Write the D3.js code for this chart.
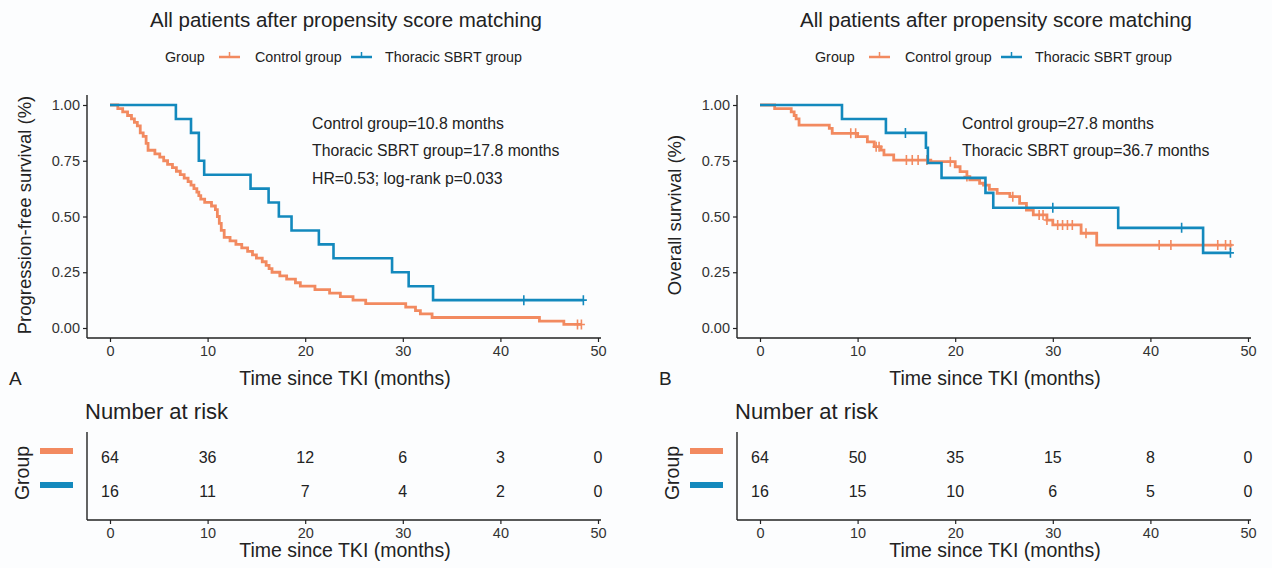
<!DOCTYPE html>
<html>
<head>
<meta charset="utf-8">
<script src="https://cdn.jsdelivr.net/npm/d3@7"></script>
<style>
  body { margin: 0; background: #fcfdfe; }
  svg { font-family: "Liberation Sans", Arial, sans-serif; }
</style>
</head>
<body>
<div id="chart"></div>
<script>
// ---- data ----
var groups = ["Control group", "Thoracic SBRT group"];
var timeTicks = [0, 10, 20, 30, 40, 50];
var survTicks = [0, 0.25, 0.5, 0.75, 1];

// PFS, control group (step times / survival after the step)
var pfsControlTime = [0, 0.8, 1.3, 1.8, 2.2, 2.5, 2.8, 3.1, 3.4, 3.7, 3.9, 4.6, 5.1, 5.5, 5.9, 6.4, 6.8, 7.2, 7.6, 8.0,
  8.3, 8.6, 8.9, 9.1, 9.3, 9.7, 10.4, 10.8, 11.0, 11.2, 11.4, 11.7, 12.3, 12.9, 13.5, 14.1, 14.6, 15.0, 15.6, 16.0,
  16.3, 16.6, 17.4, 18.1, 19.0, 19.5, 21.0, 22.5, 23.6, 24.9, 26.2, 30.3, 31.3, 31.8, 33.0, 44.0, 46.5];
var pfsControlSurv = [1, .984, .969, .953, .938, .922, .906, .875, .859, .828, .797, .781, .766, .750, .734, .719, .703, .688, .672, .656,
  .641, .625, .609, .594, .578, .563, .547, .531, .500, .469, .438, .406, .391, .375, .359, .344, .328, .313, .297, .281,
  .266, .250, .234, .219, .203, .188, .172, .156, .141, .125, .109, .094, .078, .063, .047, .031, .016];
var pfsControlCensor = [47.9, 48.3];
var pfsControlEnd = 48.3;

// PFS, thoracic SBRT group
var pfsSbrtTime = [0, 6.75, 8.3, 9.1, 9.65, 14.4, 16.25, 17.3, 18.6, 21.4, 22.9, 28.9, 30.6, 33.1];
var pfsSbrtSurv = [1, .9375, .875, .75, .6875, .625, .5625, .5, .4375, .375, .3125, .25, .1875, .125];
var pfsSbrtCensor = [42.4, 48.5];
var pfsSbrtEnd = 48.5;

// OS, control group
var osControlTime = [0, 1.5, 3.2, 3.5, 3.7, 4.0, 7.1, 7.4, 10.0, 11.0, 11.7, 12.4, 12.7, 13.7, 17.5, 20.0, 20.5, 21.2, 21.5,
  22.5, 22.9, 23.5, 24.3, 25.6, 26.6, 27.3, 28.0, 29.4, 30.0, 32.9, 34.5];
var osControlSurv = [1, .984, .969, .953, .938, .910, .895, .873, .858, .835, .813, .798, .776, .753, .746, .723, .701, .679, .664,
  .649, .641, .622, .604, .589, .559, .529, .507, .484, .462, .425, .372];
var osControlCensor = [9.3, 9.8, 11.9, 12.2, 15.0, 15.6, 16.2, 17.1, 19.5, 21.2, 25.9, 28.6, 29.0, 29.4, 30.5, 31.0, 31.5, 32.0,
  33.4, 40.9, 42.1, 46.9, 47.7, 48.2];
var osControlEnd = 48.4;

// OS, thoracic SBRT group
var osSbrtTime = [0, 8.4, 12.9, 17.0, 17.2, 18.6, 23.1, 23.9, 36.7, 45.4];
var osSbrtSurv = [1, .9375, .875, .808, .740, .673, .606, .539, .449, .337];
var osSbrtCensor = [14.9, 30.0, 43.2, 48.2];
var osSbrtEnd = 48.2;

// numbers at risk at timeTicks
var pfsRiskControl = [64, 36, 12, 6, 3, 0];
var pfsRiskSbrt = [16, 11, 7, 4, 2, 0];
var osRiskControl = [64, 50, 35, 15, 8, 0];
var osRiskSbrt = [16, 15, 10, 6, 5, 0];

var pfsNotes = ["Control group=10.8 months", "Thoracic SBRT group=17.8 months", "HR=0.53; log-rank p=0.033"];
var osNotes = ["Control group=27.8 months", "Thoracic SBRT group=36.7 months"];

var colors = ["#f28a60", "#1389bd"];
var ink = "#222";

var svg = d3.select("#chart").append("svg")
    .attr("width", 1272)
    .attr("height", 568);

function drawPanel(ox, letter, yTitle, curves, risks, notes) {
  var g = svg.append("g").attr("transform", "translate(" + ox + ",0)");

  var x = d3.scaleLinear().domain([0, 50]).range([110, 598]);
  var y = d3.scaleLinear().domain([0, 1]).range([328, 105]);

  // title
  g.append("text").attr("x", 346).attr("y", 27).attr("text-anchor", "middle")
    .attr("font-size", 20.5).attr("fill", ink)
    .text("All patients after propensity score matching");

  // legend
  var ly = 57;
  g.append("text").attr("x", 165).attr("y", ly + 5).attr("font-size", 14.3).attr("fill", ink).text("Group");
  var keyX = [219, 351], labX = [255, 385];
  groups.forEach(function(name, i) {
    g.append("line").attr("x1", keyX[i]).attr("x2", keyX[i] + 21).attr("y1", ly).attr("y2", ly)
      .attr("stroke", colors[i]).attr("stroke-width", 2.5);
    g.append("line").attr("x1", keyX[i] + 10.5).attr("x2", keyX[i] + 10.5).attr("y1", ly - 5).attr("y2", ly + 1)
      .attr("stroke", colors[i]).attr("stroke-width", 1.5);
    g.append("text").attr("x", labX[i]).attr("y", ly + 5).attr("font-size", 14.3).attr("fill", ink).text(name);
  });

  // axes
  var yAxis = g.append("g").attr("transform", "translate(87,0)")
    .call(d3.axisLeft(y).tickValues(survTicks).tickFormat(d3.format(".2f")).tickSize(4).tickSizeOuter(0));
  var xAxis = g.append("g").attr("transform", "translate(0,338)")
    .call(d3.axisBottom(x).tickValues(timeTicks).tickSize(4).tickSizeOuter(0));
  [yAxis, xAxis].forEach(function(a) {
    a.select(".domain").attr("stroke", ink).attr("stroke-width", 1.4);
    a.selectAll(".tick line").attr("stroke", ink).attr("stroke-width", 1.2);
    a.selectAll("text").attr("font-size", 14.5).attr("fill", "#333").attr("font-family", "Liberation Sans, Arial, sans-serif");
  });
  yAxis.select(".domain").attr("d", "M0,95V338");
  xAxis.select(".domain").attr("d", "M87,0H601");
  yAxis.selectAll("text").attr("x", -7);
  xAxis.selectAll("text").attr("y", 8);

  g.append("text").attr("transform", "translate(31,215) rotate(-90)").attr("text-anchor", "middle")
    .attr("font-size", 18.5).attr("fill", ink).text(yTitle);
  g.append("text").attr("x", 345).attr("y", 385).attr("text-anchor", "middle")
    .attr("font-size", 19.5).attr("fill", ink).text("Time since TKI (months)");
  g.append("text").attr("x", 9).attr("y", 385).attr("font-size", 19).attr("fill", ink).text(letter);

  // annotations
  notes.forEach(function(t, i) {
    g.append("text").attr("x", 312).attr("y", 128.5 + i * 27.5).attr("font-size", 15.8).attr("fill", ink).text(t);
  });

  // curves
  var line = d3.line().curve(d3.curveStepAfter)
    .x(function(d) { return x(d[0]); })
    .y(function(d) { return y(d[1]); });

  curves.forEach(function(c, i) {
    var pts = c.time.map(function(t, k) { return [t, c.surv[k]]; });
    pts.push([c.end, c.surv[c.surv.length - 1]]);
    g.append("path").datum(pts).attr("d", line)
      .attr("fill", "none").attr("stroke", colors[i]).attr("stroke-width", i === 0 ? 2.8 : 2.6)
      .attr("stroke-linejoin", "miter");
    // censor marks
    g.selectAll(".cens" + i).data(c.censor).enter().append("path")
      .attr("class", "cens" + i)
      .attr("d", function(t) {
        var k = d3.bisectRight(c.time, t) - 1;
        var cx = x(t), cy = y(c.surv[k]);
        return "M" + cx + "," + (cy - 5) + "V" + (cy + 5) + "M" + (cx - 3.5) + "," + cy + "H" + (cx + 3.5);
      })
      .attr("stroke", colors[i]).attr("stroke-width", 1.6).attr("fill", "none");
  });

  // number at risk table
  g.append("text").attr("x", 85).attr("y", 419).attr("font-size", 22).attr("fill", ink).text("Number at risk");
  var ry = d3.scalePoint().domain(groups).range([457, 491]);
  var rx = g.append("g").attr("transform", "translate(0,520)")
    .call(d3.axisBottom(x).tickValues(timeTicks).tickSize(4).tickSizeOuter(0));
  rx.select(".domain").attr("d", "M87,0H601").attr("stroke", ink).attr("stroke-width", 1.4);
  rx.selectAll(".tick line").attr("stroke", ink).attr("stroke-width", 1.2);
  rx.selectAll("text").attr("font-size", 14.5).attr("fill", "#333").attr("y", 8)
    .attr("font-family", "Liberation Sans, Arial, sans-serif");
  g.append("line").attr("x1", 87).attr("x2", 87).attr("y1", 432).attr("y2", 520)
    .attr("stroke", ink).attr("stroke-width", 1.4);
  g.append("text").attr("x", 345).attr("y", 557).attr("text-anchor", "middle")
    .attr("font-size", 19.5).attr("fill", ink).text("Time since TKI (months)");
  g.append("text").attr("transform", "translate(29,473) rotate(-90)").attr("text-anchor", "middle")
    .attr("font-size", 19.5).attr("fill", ink).text("Group");

  groups.forEach(function(name, i) {
    g.append("rect").attr("x", 40).attr("y", ry(name) - 9).attr("width", 33).attr("height", 6)
      .attr("fill", colors[i]);
    g.selectAll(".risk" + i).data(risks[i]).enter().append("text")
      .attr("class", "risk" + i)
      .attr("x", function(d, k) { return x(timeTicks[k]); })
      .attr("y", ry(name) + 6)
      .attr("text-anchor", "middle").attr("font-size", 16).attr("fill", ink)
      .text(function(d) { return d; });
  });
}

drawPanel(0, "A", "Progression-free survival (%)", [
  {time: pfsControlTime, surv: pfsControlSurv, censor: pfsControlCensor, end: pfsControlEnd},
  {time: pfsSbrtTime, surv: pfsSbrtSurv, censor: pfsSbrtCensor, end: pfsSbrtEnd}
], [pfsRiskControl, pfsRiskSbrt], pfsNotes);

drawPanel(650, "B", "Overall survival (%)", [
  {time: osControlTime, surv: osControlSurv, censor: osControlCensor, end: osControlEnd},
  {time: osSbrtTime, surv: osSbrtSurv, censor: osSbrtCensor, end: osSbrtEnd}
], [osRiskControl, osRiskSbrt], osNotes);
</script>
</body>
</html>
